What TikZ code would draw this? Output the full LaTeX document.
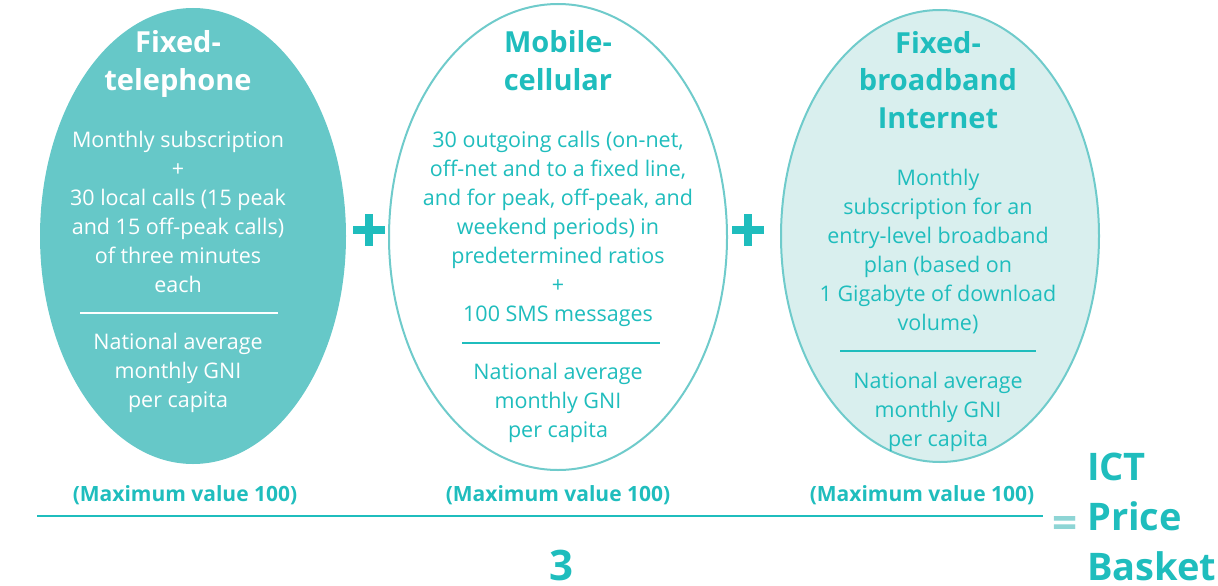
\documentclass[tikz,border=0pt]{standalone}
\usepackage{fontspec}
\setmainfont{Open Sans}
\usetikzlibrary{positioning}
\definecolor{ictteal}{HTML}{1FBDBD}
\definecolor{ictfill}{HTML}{66C8C8}
\definecolor{ictpale}{HTML}{D9EFEE}
\definecolor{ictline}{HTML}{6FCBCB}
\definecolor{icteq}{HTML}{8ED5D5}
\begin{document}
\begin{tikzpicture}[x=1pt,y=-1pt,
  bubble/.style={draw=ictline,line width=2pt},
  txt/.style={align=center,anchor=base,text=ictteal,inner sep=0pt},
  head/.style={txt,font=\fontsize{29}{37}\selectfont\bfseries},
  body/.style={txt,font=\fontsize{21.5}{29}\selectfont},
  maxv/.style={txt,font=\fontsize{21}{24}\selectfont\bfseries},
  rule/.style={draw=ictteal,line width=2.2pt},
  plus/.style={draw=ictteal,line width=8pt}]
\useasboundingbox (0,0) rectangle (1218,586);
% the three baskets
\fill[ictfill] (193,236) ellipse [x radius=153,y radius=228];
\draw[bubble,fill=white] (558,237) ellipse [x radius=169,y radius=233];
\draw[bubble,fill=ictpale] (940,236) ellipse [x radius=159,y radius=226];
% fixed telephone (base = last line)
\node[head,text=white] (fixtel) at (178,90) {Fixed-\\telephone};
\node[body,text=white] (fixtelsub) at (178,292) {Monthly subscription\\+\\30 local calls (15 peak\\and 15 off-peak calls)\\of three minutes\\each};
\draw[rule,draw=white] (80,313) -- (278,313);
\node[body,text=white] (fixtelgni) at (178,407) {National average\\monthly GNI\\per capita};
% mobile cellular
\node[head] (mobcel) at (558,90) {Mobile-\\cellular};
\node[body] (mobcelsub) at (558,321) {30 outgoing calls (on-net,\\off-net and to a fixed line,\\and for peak, off-peak, and\\weekend periods) in\\predetermined ratios\\+\\100 SMS messages};
\draw[rule] (462,343) -- (660,343);
\node[body] (mobcelgni) at (558,437) {National average\\monthly GNI\\per capita};
% fixed broadband
\node[head] (fixbb) at (938,128) {Fixed-\\broadband\\Internet};
\node[body] (fixbbsub) at (938,330) {Monthly\\subscription for an\\entry-level broadband\\plan (based on\\1 Gigabyte of download\\volume)};
\draw[rule] (840,351) -- (1036,351);
\node[body] (fixbbgni) at (938,446) {National average\\monthly GNI\\per capita};
% plus signs
\foreach \px in {369,748}
  \draw[plus] (\px-16,230) -- (\px+16,230) (\px,214) -- (\px,246);
% divided by three
\node[maxv] (maxtel) at (185,501) {(Maximum value 100)};
\node[maxv] (maxmob) at (558,501) {(Maximum value 100)};
\node[maxv] (maxbb) at (922,501) {(Maximum value 100)};
\draw[rule,line width=2.6pt] (37,516) -- (1043,516);
\node[txt,font=\fontsize{42}{42}\selectfont\bfseries] (three) at (561,580) {3};
\node[txt,text=icteq,font=\fontsize{44}{44}\selectfont\bfseries,anchor=center] (equals) at (1065,527) {=};
\node[txt,align=left,anchor=base west,font=\fontsize{38}{50}\selectfont\bfseries] (basket) at (1087,580) {ICT\\Price\\Basket};
\end{tikzpicture}
\end{document}
